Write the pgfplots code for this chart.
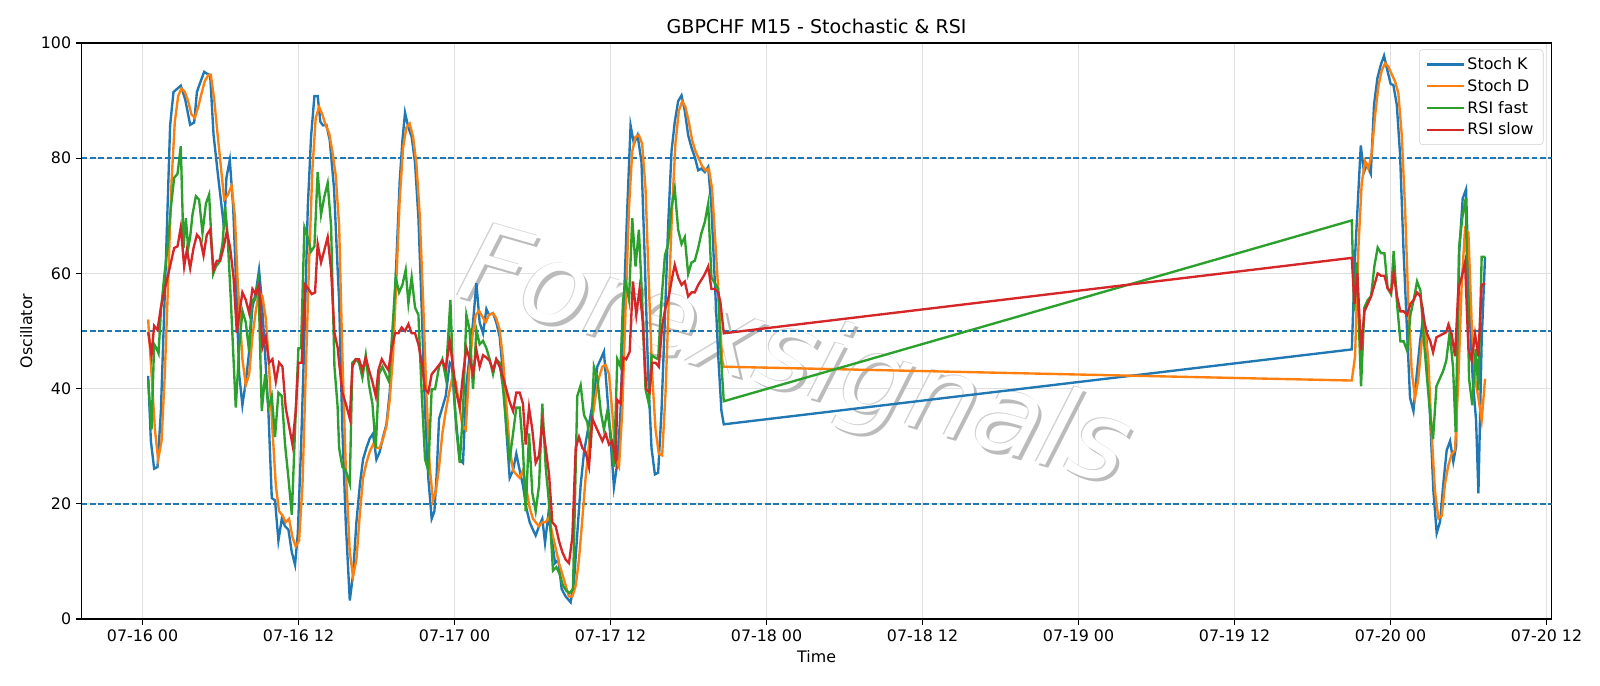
\documentclass[border=0pt]{standalone}
\usepackage{fontspec}
\setmainfont{DejaVu Sans}
\usepackage{pgfplots}
\pgfplotsset{compat=1.18}
\definecolor{tabblue}{HTML}{1F77B4}
\definecolor{taborange}{HTML}{FF7F0E}
\definecolor{tabgreen}{HTML}{2CA02C}
\definecolor{tabred}{HTML}{D62728}
\definecolor{wmedge}{HTML}{CFCFCF}
\definecolor{wmshadow}{HTML}{BBBBBB}
\begin{document}
\begin{tikzpicture}
\useasboundingbox (0pt,0pt) rectangle (1152pt,493.92pt);
\begin{axis}[
  at={(58.75pt,48.24pt)}, anchor=south west,
  scale only axis, width=1058.4pt, height=414.7pt,
  xmin=-4.69, xmax=108.39, ymin=0, ymax=100,
  xtick={0,12,...,108},
  xticklabels={07-16 00,07-16 12,07-17 00,07-17 12,07-18 00,07-18 12,07-19 00,07-19 12,07-20 00,07-20 12},
  ytick={0,20,...,100},
  /pgf/number format/assume math mode=true,
  ticklabel style={font=\fontsize{11.4}{13.7}\selectfont},
  grid=major, grid style={black!12, line width=0.9pt},
  tick align=outside, tick pos=left, major tick length=4pt,
  every tick/.style={black, line width=0.9pt},
  axis line style={black, line width=0.9pt},
  title={GBPCHF M15 - Stochastic \& RSI},
  title style={font=\fontsize{13.7}{16}\selectfont, yshift=-3pt},
  xlabel={Time}, ylabel={Oscillator},
  label style={font=\fontsize{11.4}{13.7}\selectfont},
  xlabel style={yshift=0pt},
  ylabel style={yshift=-0.7pt},
  legend style={at={(0.9945,0.989)}, anchor=north east, draw=black!18, rounded corners=2.5pt,
    fill=white, fill opacity=0.8, text opacity=1, font=\fontsize{11.4}{13.7}\selectfont,
    row sep=1.6pt, inner xsep=5pt, inner ysep=3.5pt},
  legend cell align=left,
  legend image code/.code={\draw[#1] (0pt,0pt) -- (26pt,0pt);},
]
\node[rotate=-16, text=wmshadow, font=\fontsize{79}{79}\selectfont\itshape] at ([xshift=2.2pt,yshift=-2.2pt]axis cs:50.1,44.7) {Forexsignals};
\node[rotate=-16, text=wmedge, font=\fontsize{79}{79}\selectfont\itshape] at ([xshift=-0.7pt,yshift=0.7pt]axis cs:50.1,44.7) {Forexsignals};
\node[rotate=-16, text=white, font=\fontsize{79}{79}\selectfont\itshape] at (axis cs:50.1,44.7) {Forexsignals};
\addplot[tabblue, line width=1.14pt, dash pattern=on 4.2pt off 1.8pt, forget plot] coordinates {(-4.69,80) (108.39,80)};
\addplot[tabblue, line width=1.14pt, dash pattern=on 4.2pt off 1.8pt, forget plot] coordinates {(-4.69,50) (108.39,50)};
\addplot[tabblue, line width=1.14pt, dash pattern=on 4.2pt off 1.8pt, forget plot] coordinates {(-4.69,20) (108.39,20)};
\addplot[tabblue, line width=1.7pt] coordinates {
(0.43,42.2) (0.64,30.9) (0.89,26.1) (1.15,26.4) (1.41,36.1) (1.79,61.9) (2.12,85.7) (2.38,91.5) (2.69,92.1) (2.94,92.6) (3.28,90.2) (3.66,85.8) (3.97,86.2) (4.18,91.5) (4.43,93.1) (4.74,95.0) (4.94,94.7) (5.20,94.4) (5.46,84.1) (5.76,77.9) (6.02,72.8) (6.28,67.6) (6.45,76.6) (6.71,79.7) (6.97,71.5) (7.2,58) (7.43,42.5) (7.68,37.1) (7.94,41.2) (8.2,46.4) (8.45,54.1) (8.71,56.7) (8.96,60.6) (9.17,55.4) (9.43,45.8) (9.68,36.1) (9.94,21.0) (10.19,20.6) (10.45,13.6) (10.71,17.4) (10.96,16.1) (11.22,15.5) (11.48,11.6) (11.73,9.4) (11.94,14.8) (12.19,29.7) (12.45,49.0) (12.71,71.5) (12.96,83.7) (13.22,90.8) (13.47,90.8) (13.68,86.3) (13.88,85.7) (14.14,85.8) (14.40,83.1) (14.73,74.7) (15.0,61) (15.12,55.4) (15.37,32.9) (15.63,16.8) (15.94,3.2) (16.19,7.7) (16.45,16.8) (16.71,23.2) (16.96,27.7) (17.22,29.7) (17.47,31.3) (17.73,32.2) (17.99,27.7) (18.24,29.0) (18.5,31.6) (18.76,33.8) (19.01,39.3) (19.27,48.3) (19.52,61.9) (19.78,76.0) (19.99,83.1) (20.19,87.9) (20.45,85.3) (20.70,83.7) (20.96,79.2) (21.22,69.6) (21.47,54.1) (21.73,36.1) (21.98,24.5) (22.24,17.4) (22.45,18.7) (22.62,25) (22.81,34.8) (23.06,36.7) (23.32,38.7) (23.63,44.5) (23.8,44) (24.04,36.1) (24.4,27.7) (24.65,27.1) (24.91,40.6) (25.16,45.8) (25.42,51.5) (25.68,58.3) (25.93,51.5) (26.19,49.6) (26.45,53.8) (26.65,52.8) (26.96,53.1) (27.21,51.5) (27.47,49.0) (27.73,42.5) (27.98,32.9) (28.24,24.5) (28.5,25.8) (28.75,28.7) (29.01,25.8) (29.26,23.2) (29.52,19.3) (29.78,16.8) (30.03,15.5) (30.24,14.5) (30.5,16.1) (30.75,17.4) (30.96,13.2) (31.21,18.1) (31.47,14.2) (31.73,9.7) (31.98,10.3) (32.24,5.2) (32.55,3.9) (32.93,2.9) (33.19,6.5) (33.44,14.8) (33.7,23.2) (33.96,29.0) (34.21,32.2) (34.47,35.5) (34.72,38.7) (34.98,43.8) (35.24,45.1) (35.49,46.4) (35.75,38.7) (36.01,30.9) (36.26,22.9) (36.52,27.1) (36.77,36.1) (37.03,55.4) (37.29,71.5) (37.54,85.7) (37.8,82.5) (38.08,84.0) (38.38,79.3) (38.64,61.9) (38.89,42.5) (39.15,29.7) (39.41,25.1) (39.66,25.4) (39.92,36.1) (40.18,52.2) (40.43,68.3) (40.69,81.2) (40.94,86.3) (41.2,89.9) (41.46,90.9) (41.71,88.2) (41.97,84.0) (42.23,81.8) (42.48,80.2) (42.74,77.9) (42.99,78.2) (43.25,77.6) (43.51,78.5) (43.76,71.5) (44.02,58.6) (44.28,45.8) (44.53,36.1) (44.71,33.8)
(93.02,46.8) (93.27,63) (93.71,82.2) (93.96,77.6) (94.17,78.9) (94.48,77.3) (94.73,89.3) (94.99,93.9) (95.25,96.2) (95.5,97.8) (95.76,95.2) (96.01,92.9) (96.22,92.7) (96.48,89.3) (96.73,80.8) (96.99,64.5) (97.24,51.5) (97.5,38.4) (97.76,36.1) (98.01,42.3) (98.27,48.2) (98.53,52.8) (98.78,48.2) (99.04,35.2) (99.3,22.1) (99.55,14.9) (99.81,16.9) (100.06,23.5) (100.32,29.3) (100.58,30.9) (100.83,27.3) (101.04,29.9) (101.29,63.9) (101.55,73.0) (101.81,74.6) (102.06,54.7) (102.32,41.7) (102.58,34.5) (102.76,21.8) (103.01,48.2) (103.27,62.9)
};
\addlegendentry{Stoch K}
\addplot[taborange, line width=1.7pt] coordinates {
(0.43,52.0) (0.69,42.5) (0.95,32.9) (1.2,27.7) (1.46,30.9) (1.71,42.5) (1.97,58.6) (2.23,76.0) (2.48,86.3) (2.74,90.8) (2.99,92.1) (3.25,91.5) (3.51,89.9) (3.76,87.6) (4.02,87.0) (4.28,88.9) (4.53,91.2) (4.79,93.4) (5.05,94.4) (5.25,94.5) (5.51,90.2) (5.76,84.4) (6.02,78.6) (6.28,72.8) (6.53,73.5) (6.85,75.2) (7.1,70) (7.33,58) (7.5,52) (7.68,45.1) (7.94,40.6) (8.2,42.5) (8.45,49.0) (8.71,53.5) (8.96,56.7) (9.22,56.0) (9.48,52.2) (9.73,43.8) (9.99,32.9) (10.25,23.2) (10.5,18.7) (10.76,18.0) (11.01,16.8) (11.27,17.4) (11.53,14.2) (11.78,12.6) (12.04,13.6) (12.3,23.2) (12.55,42.5) (12.81,61.9) (13.06,77.9) (13.32,87.0) (13.58,88.9) (13.83,87.6) (14.09,85.7) (14.35,84.4) (14.6,81.2) (14.86,77) (15.12,68.3) (15.37,45.8) (15.63,26.4) (15.94,11.6) (16.19,7.4) (16.45,10.3) (16.71,18.1) (16.96,24.5) (17.22,27.1) (17.47,29.0) (17.73,30.3) (17.99,29.7) (18.24,29.7) (18.5,31.3) (18.76,33.5) (19.01,38.0) (19.27,45.8) (19.52,58.6) (19.78,72.8) (20.04,81.8) (20.29,85.3) (20.55,86.0) (20.81,83.7) (21.06,79.2) (21.32,70.2) (21.58,55.4) (21.83,39.3) (22.09,26.4) (22.34,20.6) (22.55,22.0) (22.81,26.4) (23.06,32.2) (23.32,36.1) (23.58,39.3) (23.83,41.9) (24.09,41.2) (24.34,37.4) (24.6,33.5) (24.86,32.9) (25.11,42.5) (25.37,49.0) (25.63,52.8) (25.88,53.5) (26.14,52.5) (26.39,51.5) (26.65,52.8) (26.96,53.1) (27.21,52.2) (27.47,50.2) (27.73,45.1) (27.98,37.4) (28.24,29.7) (28.5,25.8) (28.75,25.1) (29.01,24.5) (29.26,25.8) (29.52,22.6) (29.78,19.3) (30.03,17.4) (30.24,16.8) (30.5,16.1) (30.75,16.8) (31.01,16.8) (31.27,17.7) (31.52,14.8) (31.78,12.3) (32.03,9.7) (32.29,7.8) (32.55,5.8) (32.8,3.9) (33.06,3.9) (33.32,5.8) (33.57,10.3) (33.83,17.4) (34.08,24.5) (34.34,30.3) (34.6,34.8) (34.85,38.7) (35.11,41.9) (35.37,43.8) (35.62,44.1) (35.88,42.5) (36.13,36.1) (36.39,27.7) (36.65,26.4) (36.9,36.1) (37.16,54.1) (37.42,71.5) (37.67,81.2) (37.92,83.7) (38.18,84.0) (38.43,82.5) (38.69,74.7) (38.94,58.6) (39.2,42.5) (39.46,32.9) (39.71,28.7) (39.97,28.4) (40.23,39.3) (40.48,55.4) (40.74,71.5) (40.99,82.5) (41.25,88.2) (41.51,89.9) (41.76,88.9) (42.02,86.3) (42.28,83.1) (42.53,81.2) (42.79,79.9) (43.05,78.6) (43.3,77.9) (43.56,78.2) (43.81,74.7) (44.07,65.1) (44.33,55.4) (44.58,45) (44.71,43.8)
(93.02,41.4) (93.27,45.6) (93.53,64.5) (93.78,75.6) (94.04,79.5) (94.3,78.2) (94.55,80.8) (94.81,87.4) (95.07,92.6) (95.32,95.2) (95.58,96.5) (95.83,95.9) (96.09,94.6) (96.35,93.3) (96.6,91.3) (96.86,84.1) (97.12,71.1) (97.37,54.7) (97.63,43.0) (97.89,38.4) (98.14,41.7) (98.4,48.2) (98.65,50.2) (98.91,44.9) (99.17,31.9) (99.42,22.1) (99.68,17.5) (99.94,17.9) (100.19,23.5) (100.45,26.7) (100.7,28.6) (100.96,29.3) (101.22,41.7) (101.47,58.0) (101.73,67.8) (101.99,67.1) (102.24,51.5) (102.5,41.7) (102.76,38.4) (103.01,34.5) (103.27,41.7)
};
\addlegendentry{Stoch D}
\addplot[tabgreen, line width=1.7pt] coordinates {
(0.43,41.5) (0.69,32.9) (0.89,47.7) (1.07,47.0) (1.23,46.1) (1.41,53.5) (1.66,59.3) (1.92,64.4) (2.18,71.5) (2.43,76.6) (2.69,77.3) (2.94,82.1) (3.15,64.4) (3.33,69.6) (3.51,64.4) (3.66,66.3) (3.84,70.2) (4.1,73.4) (4.35,72.8) (4.61,67.0) (4.87,72.1) (5.12,73.7) (5.43,59.9) (5.64,61.2) (5.89,61.9) (6.15,65.1) (6.35,71.5) (6.53,67.0) (6.79,55.4) (7.05,42.5) (7.17,36.7) (7.43,47.0) (7.68,53.5) (7.94,51.5) (8.2,46.4) (8.4,55.4) (8.66,55.4) (8.91,58.6) (9.17,36.1) (9.43,42.5) (9.68,36.7) (9.94,38.7) (10.19,31.6) (10.45,39.3) (10.71,38.7) (10.96,30.3) (11.22,24.5) (11.48,18.1) (11.73,32.9) (11.99,47.0) (12.19,47.0) (12.45,68.0) (12.71,66.3) (12.96,63.8) (13.22,64.7) (13.47,77.6) (13.73,70.2) (13.99,73.4) (14.24,75.7) (14.5,68.3) (14.76,43.8) (15.0,37) (15.12,29.7) (15.37,26.4) (15.63,25.8) (15.94,23.5) (16.14,44.5) (16.4,45.1) (16.65,44.5) (16.91,41.9) (17.17,45.8) (17.42,40.6) (17.68,37.4) (17.94,29.7) (18.19,42.5) (18.45,43.8) (18.7,42.5) (18.96,41.2) (19.22,50.2) (19.47,59.3) (19.73,56.7) (19.99,58.0) (20.24,60.6) (20.45,54.8) (20.7,59.3) (20.96,54.1) (21.22,52.8) (21.47,39.3) (21.73,27.7) (21.98,25.8) (22.24,39.9) (22.5,39.9) (22.81,43.8) (23.06,45.1) (23.32,41.9) (23.68,55.4) (23.88,42.5) (24.14,32.9) (24.4,27.1) (24.65,36.1) (24.91,52.8) (25.16,50.2) (25.42,39.9) (25.68,50.2) (25.93,47.7) (26.19,48.3) (26.45,47.0) (26.7,45.1) (26.96,42.5) (27.21,45.1) (27.47,44.5) (27.73,40.0) (27.98,33.5) (28.24,27.7) (28.5,32.2) (28.75,36.7) (29.01,36.7) (29.26,29.7) (29.47,18.7) (29.73,32.2) (29.98,21.9) (30.24,18.7) (30.5,23.2) (30.75,37.4) (31.01,26.4) (31.27,20.0) (31.57,8.4) (31.83,9.0) (32.08,7.8) (32.34,5.8) (32.6,4.9) (32.85,4.5) (33.11,5.2) (33.44,38.7) (33.7,40.6) (33.96,35.4) (34.21,34.2) (34.47,29.7) (34.72,43.8) (34.98,41.9) (35.24,36.1) (35.49,32.9) (35.75,36.1) (36.01,32.2) (36.26,26.4) (36.52,45.1) (36.77,43.8) (36.96,55.4) (37.16,58.6) (37.42,55.4) (37.67,69.6) (37.92,61.2) (38.18,67.6) (38.43,55.4) (38.69,39.9) (38.94,37.4) (39.15,45.8) (39.41,45.4) (39.66,45.1) (39.92,55.4) (40.18,63.1) (40.43,65.1) (40.69,71.5) (40.94,74.7) (41.2,67.6) (41.46,65.1) (41.71,66.3) (41.97,59.9) (42.23,61.9) (42.48,62.2) (42.74,64.4) (42.99,67.0) (43.25,68.9) (43.51,72.1) (43.76,59.3) (44.02,58.3) (44.28,57.3) (44.45,47) (44.71,37.8)
(93.02,69.2) (93.2,53.4) (93.4,61.9) (93.73,40.4) (93.99,54.1) (94.25,55.4) (94.5,56.0) (94.76,61.3) (95.01,64.5) (95.27,63.5) (95.53,63.5) (95.78,57.4) (96.04,56.4) (96.24,63.9) (96.5,54.7) (96.76,48.2) (97.01,48.2) (97.27,46.6) (97.53,52.8) (97.78,55.4) (98.04,58.6) (98.3,57.0) (98.55,48.9) (98.81,41.7) (99.06,35.2) (99.27,31.2) (99.53,40.4) (99.78,41.7) (100.04,43.0) (100.29,44.9) (100.55,49.8) (100.81,43.6) (101.01,32.5) (101.27,64.5) (101.53,69.8) (101.78,73.0) (102.04,41.7) (102.29,37.1) (102.55,46.9) (102.76,39.7) (103.01,62.9) (103.27,62.9)
};
\addlegendentry{RSI fast}
\addplot[tabred, line width=1.7pt] coordinates {
(0.43,49.8) (0.69,45.8) (0.89,50.9) (1.15,50.2) (1.41,54.1) (1.66,56.7) (1.92,59.3) (2.18,61.9) (2.43,64.4) (2.69,64.7) (2.94,68.0) (3.2,61.2) (3.41,64.1) (3.66,60.9) (3.92,64.4) (4.18,66.7) (4.43,66.0) (4.69,63.1) (4.94,66.7) (5.2,67.6) (5.46,60.6) (5.71,62.2) (5.97,62.2) (6.22,64.4) (6.48,67.3) (6.74,64.4) (7.0,59.3) (7.25,49.7) (7.43,52.8) (7.68,56.7) (7.94,55.4) (8.2,53.1) (8.45,57.3) (8.71,56.4) (8.96,58.0) (9.22,47.1) (9.48,49.0) (9.73,44.5) (9.99,45.1) (10.25,41.2) (10.5,44.5) (10.76,43.8) (11.01,36.7) (11.27,33.5) (11.53,30.3) (11.78,36.1) (11.99,44.5) (12.24,44.5) (12.5,58.0) (12.76,57.3) (13.01,56.4) (13.27,56.7) (13.47,65.1) (13.73,61.9) (13.99,64.1) (14.24,66.3) (14.5,60.6) (14.76,49.7) (15.01,47.1) (15.12,44.5) (15.37,39.3) (15.63,37.4) (15.94,34.8) (16.14,43.8) (16.4,45.1) (16.65,45.1) (16.91,43.2) (17.17,45.4) (17.42,43.2) (17.68,41.2) (17.94,38.7) (18.14,43.2) (18.4,45.1) (18.65,44.1) (18.91,43.2) (19.17,47.0) (19.42,49.6) (19.68,49.6) (19.93,50.6) (20.19,50.0) (20.45,51.2) (20.7,49.6) (20.96,49.6) (21.22,47.7) (21.47,44.5) (21.73,39.9) (21.98,39.3) (22.24,42.5) (22.5,43.2) (22.81,44.1) (23.06,44.8) (23.32,43.5) (23.63,48.3) (23.88,43.8) (24.14,39.3) (24.4,36.7) (24.65,42.5) (24.91,47.0) (25.16,45.1) (25.42,42.5) (25.68,46.7) (25.93,43.8) (26.19,45.8) (26.45,45.4) (26.7,44.8) (26.96,43.2) (27.21,45.1) (27.47,43.8) (27.73,41.9) (27.98,39.9) (28.24,37.7) (28.5,36.1) (28.75,39.3) (29.01,39.3) (29.26,37.4) (29.47,30.3) (29.73,36.7) (29.98,32.9) (30.24,27.1) (30.5,28.4) (30.75,34.2) (31.01,29.7) (31.27,25.1) (31.52,16.8) (31.78,16.1) (32.03,13.6) (32.29,11.6) (32.55,10.3) (32.8,9.7) (33.06,14.2) (33.32,29.7) (33.57,31.6) (33.83,29.7) (34.08,29.0) (34.34,26.4) (34.6,34.8) (34.85,33.5) (35.11,32.2) (35.37,30.9) (35.62,32.2) (35.88,30.3) (36.13,30.9) (36.39,27.7) (36.52,38.0) (36.77,37.4) (36.96,45.4) (37.21,45.1) (37.47,46.4) (37.72,58.6) (37.98,52.8) (38.23,57.3) (38.48,51.5) (38.74,39.9) (39.0,39.3) (39.2,44.5) (39.46,44.5) (39.71,43.8) (39.97,50.9) (40.23,54.1) (40.48,56.0) (40.74,59.3) (40.94,61.5) (41.2,59.3) (41.46,58.0) (41.71,58.6) (41.97,56.0) (42.23,56.7) (42.48,56.7) (42.74,58.0) (42.99,58.9) (43.25,59.9) (43.51,61.2) (43.76,57.3) (44.02,57.3) (44.28,56.7) (44.45,55) (44.71,49.6)
(93.02,62.7) (93.22,54.7) (93.45,60.0) (93.73,46.6) (93.99,53.4) (94.25,54.7) (94.5,56.0) (94.76,58.0) (95.01,60.0) (95.27,59.6) (95.53,59.6) (95.78,57.4) (96.04,56.7) (96.24,60.0) (96.5,56.0) (96.76,53.4) (97.01,53.4) (97.27,52.8) (97.53,54.7) (97.78,55.4) (98.04,56.7) (98.3,56.0) (98.55,52.1) (98.81,49.5) (99.06,48.2) (99.27,46.3) (99.53,48.9) (99.78,49.2) (100.04,49.5) (100.29,49.8) (100.45,51.1) (100.7,49.5) (100.96,45.6) (101.22,57.4) (101.47,59.3) (101.73,61.9) (101.99,46.9) (102.24,44.9) (102.5,49.5) (102.76,45.6) (103.01,58.0) (103.27,58.3)
};
\addlegendentry{RSI slow}
\end{axis}
\end{tikzpicture}
\end{document}
